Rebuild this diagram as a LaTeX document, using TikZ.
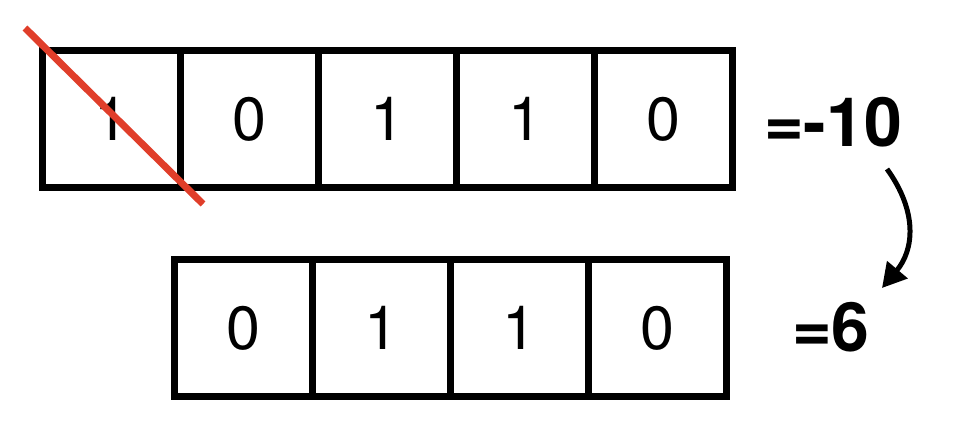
\documentclass[tikz,border=0pt]{standalone}
\usepackage{fontspec}
\setmainfont{TeX Gyre Heros}
\usetikzlibrary{arrows.meta}
\definecolor{strike}{RGB}{224,62,42}
\tikzset{
  cell/.style={draw=black, line width=7pt, minimum width=138pt, minimum height=137.5pt, inner sep=0pt, outer sep=0pt, font=\fontsize{61}{61}\selectfont},
  result/.style={inner sep=0pt, font=\fontsize{68}{68}\selectfont\bfseries},
}
\begin{document}
\begin{tikzpicture}[x=1pt,y=-1pt]
\useasboundingbox (0,0) rectangle (964,440);
% top row
\node[cell] (t1) at (111,119) {1};
\node[cell] (t2) at (249,119) {0};
\node[cell] (t3) at (387,119) {1};
\node[cell] (t4) at (525,119) {1};
\node[cell] (t5) at (663,119) {0};
% bottom row
\node[cell] (b1) at (243,328) {0};
\node[cell] (b2) at (381,328) {1};
\node[cell] (b3) at (519,328) {1};
\node[cell] (b4) at (657,328) {0};
% results
\node[result] (r1) at (833,122) {=-10};
\node[result] (r2) at (831,327) {=6};
% strike-through
\coordinate (s1) at (25,28);
\coordinate (s2) at (203,204);
\draw[strike, line width=7pt] (s1) -- (s2);
% arrow
\coordinate (a1) at (887,169);
\coordinate (a2) at (882,288);
\draw[line width=5pt, -{Triangle[length=24pt,width=26pt]}] (a1) .. controls (918,212) and (914,250) .. (a2);
\end{tikzpicture}
\end{document}
